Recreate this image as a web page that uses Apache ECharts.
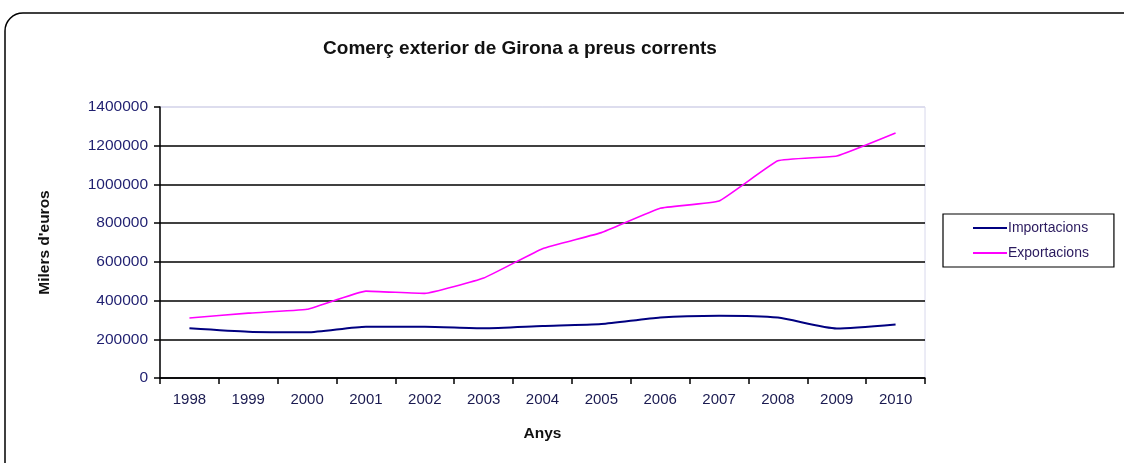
<!DOCTYPE html>
<html>
<head>
<meta charset="utf-8">
<script src="https://cdn.jsdelivr.net/npm/echarts@6/dist/echarts.min.js"></script>
<style>
html,body{margin:0;padding:0;background:#fff;}
#c{width:1124px;height:463px;}
</style>
</head>
<body>
<div id="c"></div>
<script>
const years = ['1998','1999','2000','2001','2002','2003','2004','2005','2006','2007','2008','2009','2010'];
const importacions = [257000,239000,236000,265000,265000,257000,269000,279000,313000,322000,312000,256000,277000];
const exportacions = [310000,335000,355000,449000,437000,516000,668000,751000,877000,914000,1122000,1147000,1266000];

const chart = echarts.init(document.getElementById('c'));
const font = 'Liberation Sans, Arial, sans-serif';
chart.setOption({
  animation: false,
  graphic: [{
    type: 'rect',
    shape: {x: 5, y: 13, width: 1140, height: 470, r: 18},
    style: {fill: 'none', stroke: '#000', lineWidth: 1.5},
    silent: true
  }],
  title: {
    text: 'Comerç exterior de Girona a preus corrents',
    left: 515, top: 34, textAlign: 'center',
    textStyle: {fontFamily: font, fontSize: 19, fontWeight: 'bold', color: '#111'}
  },
  legend: {
    orient: 'vertical',
    left: 943, top: 214,
    width: 120,
    padding: [6, 25, 6, 30],
    itemGap: 9,
    itemWidth: 34, itemHeight: 2,
    icon: 'rect',
    borderColor: '#000', borderWidth: 1.2,
    textStyle: {fontFamily: font, fontSize: 14, lineHeight: 16, color: '#2a1a5e', padding: [0,0,0,-4]},
    data: ['Importacions', 'Exportacions']
  },
  grid: {left: 160, right: 199, top: 107, bottom: 85, show: true, borderColor: '#d8d8ec', borderWidth: 1},
  xAxis: {
    type: 'category',
    data: years,
    boundaryGap: true,
    name: 'Anys',
    nameLocation: 'middle',
    nameGap: 48,
    nameTextStyle: {fontFamily: font, fontSize: 15.5, fontWeight: 'bold', color: '#111'},
    axisLine: {lineStyle: {color: '#000', width: 1.5}},
    axisTick: {show: true, length: 6, lineStyle: {color: '#000', width: 1.5}},
    axisLabel: {fontFamily: font, fontSize: 15, color: '#1a1a50', margin: 14}
  },
  yAxis: {
    type: 'value',
    min: 0, max: 1400000, interval: 200000,
    name: "Milers d'euros",
    nameLocation: 'middle',
    nameGap: 107,
    nameTextStyle: {fontFamily: font, fontSize: 15.5, fontWeight: 'bold', color: '#111'},
    axisLine: {show: true, lineStyle: {color: '#000', width: 1.5}},
    axisTick: {show: true, length: 6, lineStyle: {color: '#000', width: 1.5}},
    axisLabel: {fontFamily: font, fontSize: 15.5, color: '#1f1f70', margin: 12, formatter: v => String(v)},
    splitLine: {show: true, lineStyle: {color: ['#000','#000','#000','#000','#000','#000','#000','#d8d8ec'], width: 1.5}}
  },
  series: [
    {name: 'Importacions', type: 'line', data: importacions, smooth: 0.2, showSymbol: false, symbol: 'none',
     lineStyle: {color: '#000080', width: 2}, itemStyle: {color: '#000080'}},
    {name: 'Exportacions', type: 'line', data: exportacions, smooth: 0.1, showSymbol: false, symbol: 'none',
     lineStyle: {color: '#ff00ff', width: 1.6}, itemStyle: {color: '#ff00ff'}}
  ]
});
</script>
</body>
</html>
